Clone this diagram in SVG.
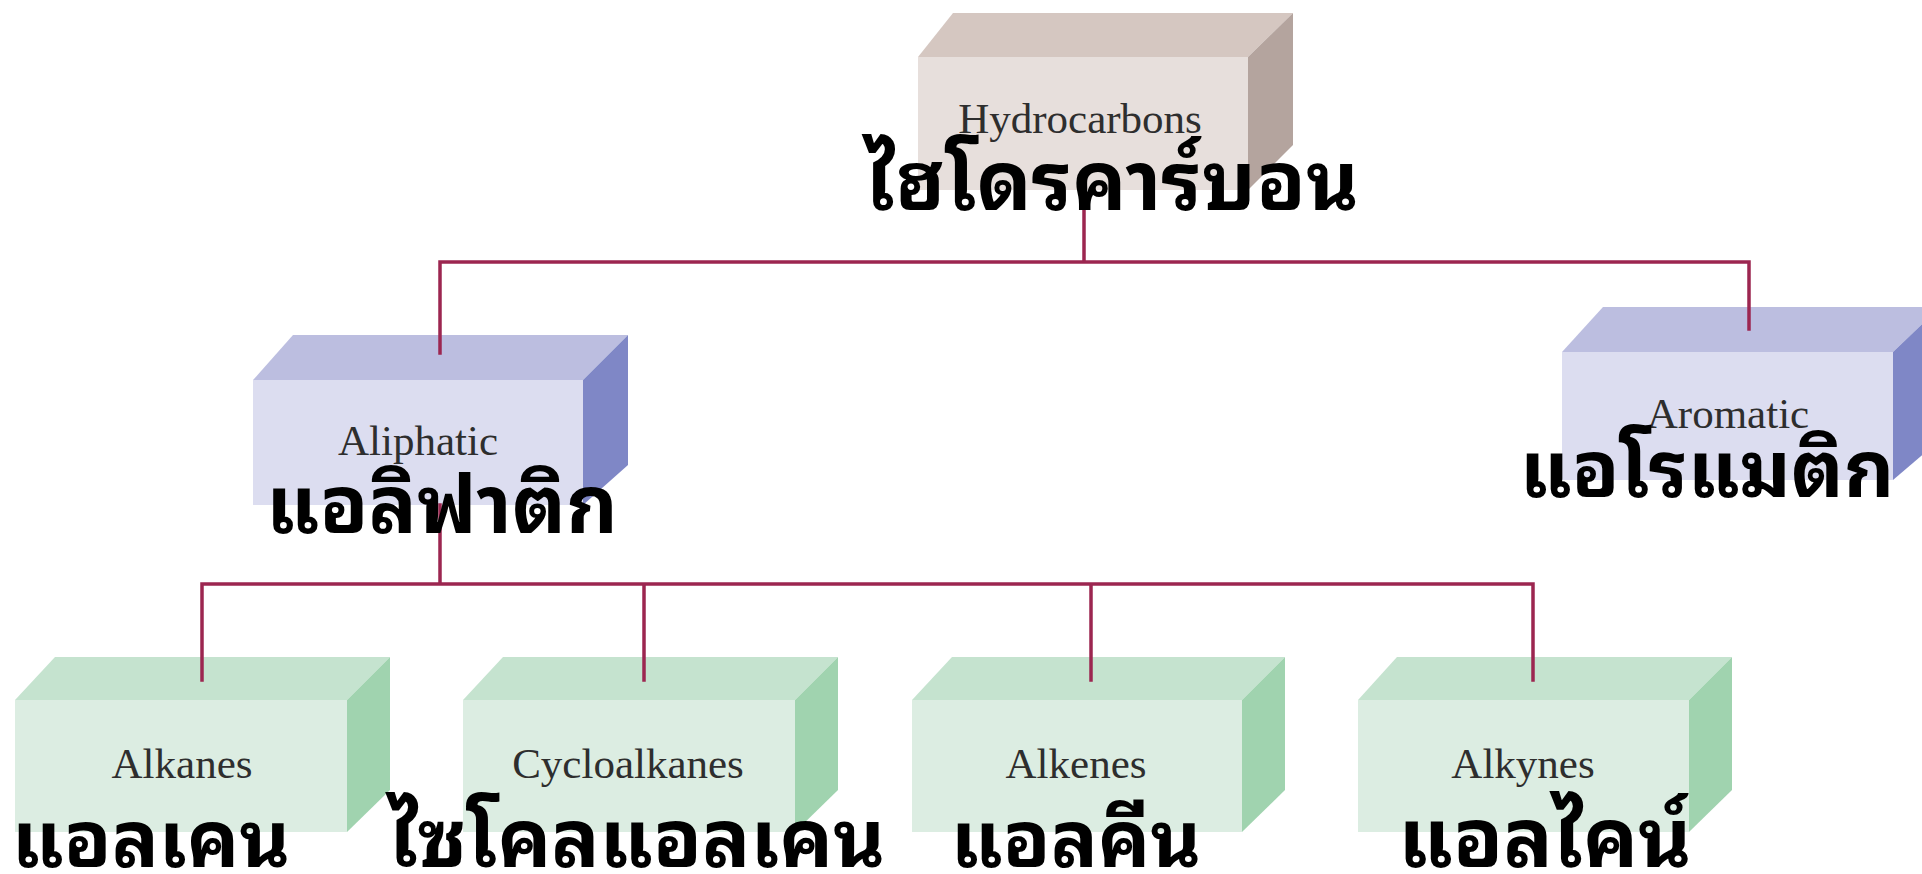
<svg xmlns="http://www.w3.org/2000/svg" width="1922" height="874" viewBox="0 0 1922 874">
<style>
.en{font-family:"Liberation Serif","Times New Roman",serif;font-size:43px;fill:#2e2e2e;text-anchor:middle}
.th{font-family:"Noto Sans Thai Looped","Noto Looped Thai","Loma","Garuda","Tlwg Typo","Noto Sans Thai","Noto Sans",sans-serif;font-weight:bold;fill:#000;text-anchor:middle}
.conn{stroke:#9c2650;stroke-width:3.5;fill:none;stroke-linecap:square}
.hf{fill:#e7dfdc}.ht{fill:#d5c7c1}.hr{fill:#b4a49e}
.lf{fill:#dcddf0}.lt{fill:#bcbee0}.lr{fill:#7f87c6}
.gf{fill:#dcede2}.gt{fill:#c5e3cf}.gr{fill:#a0d3af}
</style>
<rect width="1922" height="874" fill="#fff"/>
<g id="hydrocarbons">
<polygon class="ht" points="918,57 953,13 1293,13 1248,57"/>
<polygon class="hr" points="1248,57 1293,13 1293,145 1248,190"/>
<rect class="hf" x="918" y="57" width="330" height="133"/>
<text class="en" x="1080" y="133">Hydrocarbons</text>
</g>
<g id="aliphatic">
<polygon class="lt" points="253,380 293,335 628,335 583,380"/>
<polygon class="lr" points="583,380 628,335 628,465 583,505"/>
<rect class="lf" x="253" y="380" width="330" height="125"/>
<text class="en" x="418" y="455">Aliphatic</text>
</g>
<g id="aromatic">
<polygon class="lt" points="1562,352 1603,307 1940,307 1893,352"/>
<polygon class="lr" points="1893,352 1940,307 1940,440 1893,480"/>
<rect class="lf" x="1562" y="352" width="331" height="128"/>
<text class="en" x="1728" y="428">Aromatic</text>
</g>
<g id="alkanes">
<polygon class="gt" points="15,700 55,657 390,657 347,700"/>
<polygon class="gr" points="347,700 390,657 390,790 347,832"/>
<rect class="gf" x="15" y="700" width="332" height="132"/>
<text class="en" x="182" y="778">Alkanes</text>
</g>
<g id="cycloalkanes">
<polygon class="gt" points="463,700 503,657 838,657 795,700"/>
<polygon class="gr" points="795,700 838,657 838,790 795,832"/>
<rect class="gf" x="463" y="700" width="332" height="132"/>
<text class="en" x="628" y="778">Cycloalkanes</text>
</g>
<g id="alkenes">
<polygon class="gt" points="912,700 952,657 1285,657 1242,700"/>
<polygon class="gr" points="1242,700 1285,657 1285,790 1242,832"/>
<rect class="gf" x="912" y="700" width="330" height="132"/>
<text class="en" x="1076" y="778">Alkenes</text>
</g>
<g id="alkynes">
<polygon class="gt" points="1358,700 1397,657 1732,657 1689,700"/>
<polygon class="gr" points="1689,700 1732,657 1732,790 1689,832"/>
<rect class="gf" x="1358" y="700" width="331" height="132"/>
<text class="en" x="1523" y="778">Alkynes</text>
</g>
<g id="connectors">
<path class="conn" d="M1084,185 V262 M440,262 H1749 M440,262 V353 M1749,262 V329"/>
<path class="conn" d="M440,505 V584 M202,584 H1533 M202,584 V680 M644,584 V680 M1091,584 V680 M1533,584 V680"/>
</g>
<g id="thai-labels">
<text class="th" x="1112" y="210" font-size="81">ไฮโดรคาร์บอน</text>
<text class="th" x="442" y="533" font-size="80">แอลิฟาติก</text>
<text class="th" x="1707" y="497" font-size="78">แอโรแมติก</text>
<text class="th" x="151" y="867" font-size="78">แอลเคน</text>
<text class="th" x="637" y="867" font-size="80">ไซโคลแอลเคน</text>
<text class="th" x="1076" y="867" font-size="78">แอลคีน</text>
<text class="th" x="1545" y="867" font-size="82">แอลไคน์</text>
</g>
</svg>
